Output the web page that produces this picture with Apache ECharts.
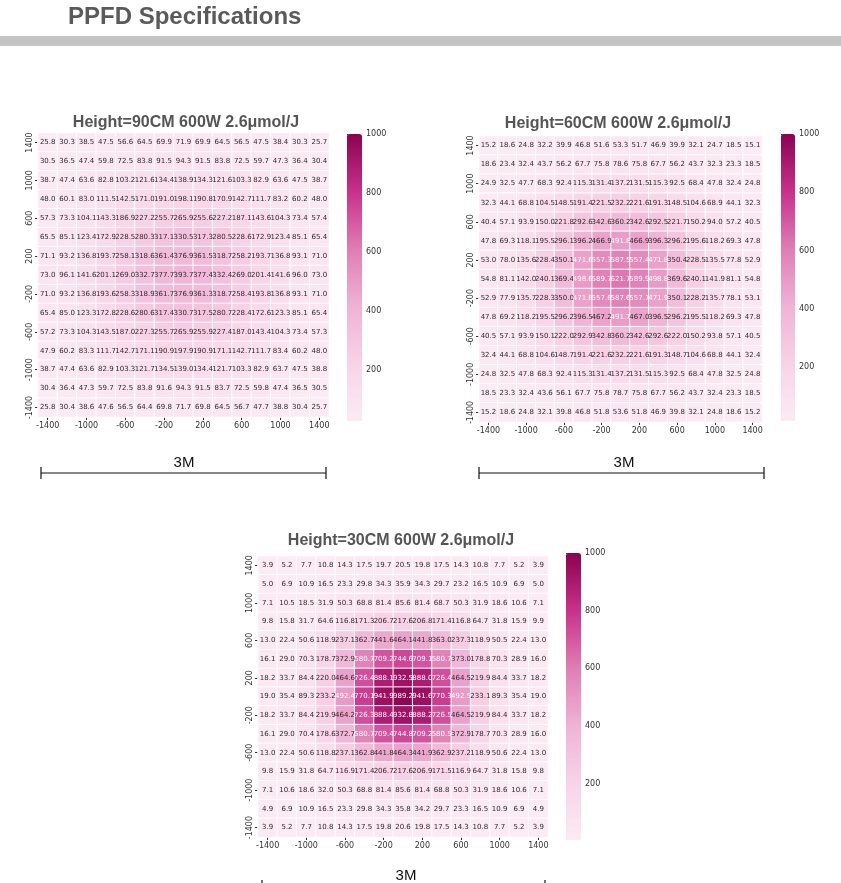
<!DOCTYPE html>
<html><head><meta charset="utf-8">
<script src="https://cdn.jsdelivr.net/npm/echarts@6/dist/echarts.min.js"></script>
<style>html,body{margin:0;padding:0;background:#fff}#c{width:841px;height:883px}</style>
</head><body><div id="c"></div>
<script>
// ---- data ----
const xCats = ['-1400','-1200','-1000','-800','-600','-400','-200','0','200','400','600','800','1000','1200','1400'];
const yCats = ['1400','1200','1000','800','600','400','200','0','-200','-400','-600','-800','-1000','-1200','-1400'];
const colorbarTicks = [200, 400, 600, 800, 1000];
const headerText = 'PPFD Specifications';
const panelTitles = ['Height=90CM 600W 2.6μmol/J', 'Height=60CM 600W 2.6μmol/J', 'Height=30CM 600W 2.6μmol/J'];
const spanLabel = '3M';

const ppfd90 = [
 [25.8,30.3,38.5,47.5,56.6,64.5,69.9,71.9,69.9,64.5,56.5,47.5,38.4,30.3,25.7],
 [30.5,36.5,47.4,59.8,72.5,83.8,91.5,94.3,91.5,83.8,72.5,59.7,47.3,36.4,30.4],
 [38.7,47.4,63.6,82.8,103.2,121.6,134.4,138.9,134.3,121.6,103.3,82.9,63.6,47.5,38.7],
 [48.0,60.1,83.0,111.5,142.5,171.0,191.0,198.1,190.8,170.9,142.7,111.7,83.2,60.2,48.0],
 [57.3,73.3,104.1,143.3,186.9,227.2,255.7,265.9,255.6,227.2,187.1,143.6,104.3,73.4,57.4],
 [65.5,85.1,123.4,172.9,228.5,280.3,317.1,330.5,317.3,280.5,228.6,172.9,123.4,85.1,65.4],
 [71.1,93.2,136.8,193.7,258.1,318.6,361.4,376.9,361.5,318.7,258.2,193.7,136.8,93.1,71.0],
 [73.0,96.1,141.6,201.1,269.0,332.7,377.7,393.7,377.4,332.4,269.0,201.4,141.6,96.0,73.0],
 [71.0,93.2,136.8,193.6,258.3,318.9,361.7,376.9,361.3,318.7,258.4,193.8,136.8,93.1,71.0],
 [65.4,85.0,123.3,172.8,228.6,280.6,317.4,330.7,317.5,280.7,228.4,172.6,123.3,85.1,65.4],
 [57.2,73.3,104.3,143.5,187.0,227.3,255.7,265.9,255.9,227.4,187.0,143.4,104.3,73.4,57.3],
 [47.9,60.2,83.3,111.7,142.7,171.1,190.9,197.9,190.9,171.1,142.7,111.7,83.4,60.2,48.0],
 [38.7,47.4,63.6,82.9,103.3,121.7,134.5,139.0,134.4,121.7,103.3,82.9,63.7,47.5,38.8],
 [30.4,36.4,47.3,59.7,72.5,83.8,91.6,94.3,91.5,83.7,72.5,59.8,47.4,36.5,30.5],
 [25.8,30.4,38.6,47.6,56.5,64.4,69.8,71.7,69.8,64.5,56.7,47.7,38.8,30.4,25.7]
];
const ppfd60 = [
 [15.2,18.6,24.8,32.2,39.9,46.8,51.6,53.3,51.7,46.9,39.9,32.1,24.7,18.5,15.1],
 [18.6,23.4,32.4,43.7,56.2,67.7,75.8,78.6,75.8,67.7,56.2,43.7,32.3,23.3,18.5],
 [24.9,32.5,47.7,68.3,92.4,115.3,131.4,137.2,131.5,115.3,92.5,68.4,47.8,32.4,24.8],
 [32.3,44.1,68.8,104.5,148.5,191.4,221.5,232.2,221.6,191.3,148.5,104.6,68.9,44.1,32.3],
 [40.4,57.1,93.9,150.0,221.8,292.6,342.6,360.2,342.6,292.5,221.7,150.2,94.0,57.2,40.5],
 [47.8,69.3,118.1,195.5,296.1,396.2,466.9,491.8,466.9,396.3,296.2,195.6,118.2,69.3,47.8],
 [53.0,78.0,135.6,228.4,350.1,471.6,557.3,587.5,557.4,471.8,350.4,228.5,135.5,77.8,52.9],
 [54.8,81.1,142.0,240.1,369.4,498.6,589.7,621.7,589.9,498.8,369.6,240.1,141.9,81.1,54.8],
 [52.9,77.9,135.7,228.3,350.0,471.8,557.6,587.6,557.7,471.9,350.1,228.2,135.7,78.1,53.1],
 [47.8,69.2,118.2,195.5,296.2,396.5,467.2,491.7,467.0,396.5,296.2,195.5,118.2,69.3,47.8],
 [40.5,57.1,93.9,150.1,222.0,292.9,342.8,360.2,342.6,292.6,222.0,150.2,93.8,57.1,40.5],
 [32.4,44.1,68.8,104.6,148.7,191.4,221.6,232.2,221.6,191.3,148.7,104.6,68.8,44.1,32.4],
 [24.8,32.5,47.8,68.3,92.4,115.3,131.4,137.2,131.5,115.3,92.5,68.4,47.8,32.5,24.8],
 [18.5,23.3,32.4,43.6,56.1,67.7,75.8,78.7,75.8,67.7,56.2,43.7,32.4,23.3,18.5],
 [15.2,18.6,24.8,32.1,39.8,46.8,51.8,53.6,51.8,46.9,39.8,32.1,24.8,18.6,15.2]
];
const ppfd30 = [
 [3.9,5.2,7.7,10.8,14.3,17.5,19.7,20.5,19.8,17.5,14.3,10.8,7.7,5.2,3.9],
 [5.0,6.9,10.9,16.5,23.3,29.8,34.3,35.9,34.3,29.7,23.2,16.5,10.9,6.9,5.0],
 [7.1,10.5,18.5,31.9,50.3,68.8,81.4,85.6,81.4,68.7,50.3,31.9,18.6,10.6,7.1],
 [9.8,15.8,31.7,64.6,116.8,171.3,206.7,217.6,206.8,171.4,116.8,64.7,31.8,15.9,9.9],
 [13.0,22.4,50.6,118.9,237.1,362.7,441.6,464.1,441.8,363.0,237.3,118.9,50.5,22.4,13.0],
 [16.1,29.0,70.3,178.7,372.9,580.7,709.2,744.6,709.1,580.7,373.0,178.8,70.3,28.9,16.0],
 [18.2,33.7,84.4,220.0,464.6,726.4,888.1,932.5,888.0,726.4,464.5,219.9,84.4,33.7,18.2],
 [19.0,35.4,89.3,233.2,492.4,770.1,941.9,989.2,941.6,770.3,492.5,233.1,89.3,35.4,19.0],
 [18.2,33.7,84.4,219.9,464.2,726.3,888.4,932.8,888.2,726.5,464.5,219.9,84.4,33.7,18.2],
 [16.1,29.0,70.4,178.6,372.7,580.7,709.4,744.8,709.2,580.5,372.9,178.7,70.3,28.9,16.0],
 [13.0,22.4,50.6,118.8,237.1,362.8,441.8,464.3,441.9,362.9,237.2,118.9,50.6,22.4,13.0],
 [9.8,15.9,31.8,64.7,116.9,171.4,206.7,217.6,206.9,171.5,116.9,64.7,31.8,15.8,9.8],
 [7.1,10.6,18.6,32.0,50.3,68.8,81.4,85.6,81.4,68.8,50.3,31.9,18.6,10.6,7.1],
 [4.9,6.9,10.9,16.5,23.3,29.8,34.3,35.8,34.2,29.7,23.3,16.5,10.9,6.9,4.9],
 [3.9,5.2,7.7,10.8,14.3,17.5,19.8,20.6,19.8,17.5,14.3,10.8,7.7,5.2,3.9]
];
const colorMax = 1000;

// ---- layout / style ----
const matrices = [ppfd90, ppfd60, ppfd30];
const panels = [
  {grid:{left:38, top:133, width:291, height:284}, bar:{left:347, top:134, width:15, height:287}, title:[186,123], span:{cx:184, y:463, x1:41, x2:326, ly:473}},
  {grid:{left:479, top:136, width:283, height:286}, bar:{left:781, top:134, width:14, height:287}, title:[618,124], span:{cx:624, y:463, x1:479, x2:764, ly:473}},
  {grid:{left:258, top:556, width:290, height:281}, bar:{left:566, top:553, width:15, height:287}, title:[401,541], span:{cx:406, y:876, x1:262, x2:545, ly:886}}
];
const palette = ['#fcebf4','#f8d3e7','#f0b2d5','#e07db4','#c9308b','#8c0250'];
const tickFont = {fontFamily:'DejaVu Sans', fontSize:8, color:'#333'};

const grids = [], xAxes = [], yAxes = [], series = [], visualMaps = [], graphics = [];

graphics.push({type:'text', left:68, top:5, style:{text:headerText, font:'bold 24px "Liberation Sans", Arial, sans-serif', fill:'#5a5a5a'}});
graphics.push({type:'rect', shape:{x:0, y:36, width:841, height:10}, style:{fill:'#c4c4c4'}});

panels.forEach((p, i) => {
  const m = matrices[i];
  let vmin = Infinity;
  m.forEach(r => r.forEach(v => { if (v < vmin) vmin = v; }));
  grids.push(Object.assign({containLabel:false}, p.grid));
  xAxes.push({gridIndex: grids.length-1, type:'category', data:xCats, position:'bottom',
    axisLine:{show:false}, splitLine:{show:false}, splitArea:{show:false},
    axisTick:{show:true, interval:1, alignWithLabel:true, length:3, lineStyle:{color:'#333'}},
    axisLabel:Object.assign({interval:1, margin:5}, tickFont)});
  yAxes.push({gridIndex: grids.length-1, type:'category', data:yCats, inverse:true,
    axisLine:{show:false}, splitLine:{show:false}, splitArea:{show:false},
    axisTick:{show:true, interval:1, alignWithLabel:true, length:3, lineStyle:{color:'#333'}},
    axisLabel:Object.assign({interval:1, rotate:90, margin:4}, tickFont)});
  const data = [];
  m.forEach((row, r) => row.forEach((v, c) => {
    data.push({value:[c, r, v], label:{color: v > 470 ? '#ffffff' : '#2b2b2b'}});
  }));
  series.push({type:'heatmap', xAxisIndex: xAxes.length-1, yAxisIndex: yAxes.length-1, data,
    itemStyle:{borderColor:'#ffffff', borderWidth:1},
    label:{show:true, fontFamily:'DejaVu Sans', fontSize:7, formatter: q => q.value[2].toFixed(1)},
    emphasis:{disabled:true}, silent:true, animation:false});
  visualMaps.push({type:'continuous', min:vmin, max:colorMax, seriesIndex: series.length-1,
    show:true, calculable:false, left:p.bar.left, top:p.bar.top, itemWidth:p.bar.width, itemHeight:p.bar.height,
    padding:0, text:null, inRange:{color:palette}, hoverLink:false});
  grids.push(Object.assign({}, p.bar));
  xAxes.push({gridIndex: grids.length-1, type:'value', show:false, min:0, max:1});
  yAxes.push({gridIndex: grids.length-1, type:'value', min:vmin, max:colorMax, position:'right',
    axisLine:{show:false}, splitLine:{show:false},
    axisTick:{show:true, length:3, customValues:colorbarTicks, lineStyle:{color:'#333'}},
    axisLabel:Object.assign({customValues:colorbarTicks, margin:4, formatter: v => String(Math.round(v))}, tickFont)});
  graphics.push({type:'text', x:p.title[0], y:p.title[1], style:{text:panelTitles[i], font:'bold 16px "Liberation Sans", Arial, sans-serif', fill:'#555', align:'center', verticalAlign:'middle'}});
  graphics.push({type:'text', x:p.span.cx, y:p.span.y, style:{text:spanLabel, font:'15px "Liberation Sans", Arial, sans-serif', fill:'#111', align:'center', verticalAlign:'middle'}});
  graphics.push({type:'line', shape:{x1:p.span.x1, y1:p.span.ly, x2:p.span.x2, y2:p.span.ly}, style:{stroke:'#111', lineWidth:1.2}});
  graphics.push({type:'line', shape:{x1:p.span.x1, y1:p.span.ly-6, x2:p.span.x1, y2:p.span.ly+6}, style:{stroke:'#111', lineWidth:1.2}});
  graphics.push({type:'line', shape:{x1:p.span.x2, y1:p.span.ly-6, x2:p.span.x2, y2:p.span.ly+6}, style:{stroke:'#111', lineWidth:1.2}});
});

const chart = echarts.init(document.getElementById('c'), null, {renderer:'canvas'});
chart.setOption({
  animation:false,
  backgroundColor:'#ffffff',
  grid:grids, xAxis:xAxes, yAxis:yAxes, series, visualMap:visualMaps, graphic:graphics
});
</script></body></html>
